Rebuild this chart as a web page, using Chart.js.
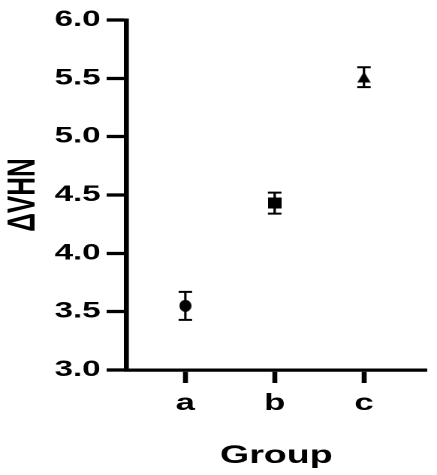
<!DOCTYPE html>
<html>
<head>
<meta charset="utf-8">
<script src="https://cdn.jsdelivr.net/npm/chart.js@4"></script>
<style>
  html, body { margin: 0; padding: 0; background: #fff; overflow: hidden; }
  /* the reference is stretched sideways, so draw narrow and widen */
  #wrap { width: 291px; height: 475px; transform: scaleX(1.5017); transform-origin: 0 0; }
</style>
</head>
<body>
<div id="wrap"><canvas id="chart" width="291" height="475"></canvas></div>
<script>
const groups = ['a', 'b', 'c'];
const means = [3.55, 4.43, 5.51];
const errors = [0.12, 0.09, 0.085];
const markerKinds = ['circle', 'rect', 'triangle'];

const FONT = 'Liberation Sans, Arial, sans-serif';

// marker images pre-squeezed so they look right after the stretch
function makeMarker(kind, w, h) {
  const k = 4;
  const cv = document.createElement('canvas');
  cv.width = w * k; cv.height = h * k;
  const g = cv.getContext('2d');
  g.fillStyle = '#000';
  g.beginPath();
  if (kind === 'circle') {
    g.ellipse(cv.width / 2, cv.height / 2, cv.width / 2, cv.height / 2, 0, 0, Math.PI * 2);
  } else if (kind === 'rect') {
    g.rect(0, 0, cv.width, cv.height);
  } else {
    g.moveTo(cv.width / 2, 0);
    g.lineTo(cv.width, cv.height);
    g.lineTo(0, cv.height);
    g.closePath();
  }
  g.fill();
  const img = new Image(w, h);
  img.src = cv.toDataURL();
  return img;
}

const sizes = { circle: [8, 12], rect: [9, 11], triangle: [9, 11] };
const markers = markerKinds.map(k => makeMarker(k, sizes[k][0], sizes[k][1]));

const errorBars = {
  id: 'errorBars',
  beforeDatasetsDraw(chart) {
    const { ctx, scales: { x, y } } = chart;
    ctx.save();
    ctx.strokeStyle = '#000';
    means.forEach((m, i) => {
      const px = x.getPixelForValue(i);
      const top = y.getPixelForValue(m + errors[i]);
      const bot = y.getPixelForValue(m - errors[i]);
      ctx.lineWidth = 1.6;
      ctx.beginPath();
      ctx.moveTo(px, top);
      ctx.lineTo(px, bot);
      ctx.stroke();
      ctx.lineWidth = 2;
      ctx.beginPath();
      ctx.moveTo(px - 4.5, top); ctx.lineTo(px + 4.5, top);
      ctx.moveTo(px - 4.5, bot); ctx.lineTo(px + 4.5, bot);
      ctx.stroke();
    });
    ctx.restore();
  }
};

Promise.all(markers.map(m => m.decode().catch(() => {}))).then(() => {
  const ctx = document.getElementById('chart').getContext('2d');
  new Chart(ctx, {
    type: 'scatter',
    data: {
      datasets: [{
        data: groups.map((g, i) => ({ x: i, y: means[i] })),
        pointStyle: markers,
        pointRadius: 6,
        pointHoverRadius: 6,
        backgroundColor: '#000',
        borderColor: '#000'
      }]
    },
    options: {
      responsive: false,
      devicePixelRatio: 2,
      animation: false,
      layout: { padding: { top: 20, right: 4.3, left: 0, bottom: 0 } },
      plugins: { legend: { display: false }, tooltip: { enabled: false } },
      scales: {
        x: {
          type: 'linear',
          min: -0.663,
          max: 2.70,
          afterBuildTicks: s => { s.ticks = groups.map((g, i) => ({ value: i })); },
          afterFit: s => { s.height = 105; },
          grid: { drawOnChartArea: false, tickLength: 13, tickWidth: 3.3, tickColor: '#000' },
          border: { color: '#000', width: 3.3 },
          ticks: {
            color: '#000', padding: 7,
            font: { family: FONT, size: 23, weight: 'bold' },
            callback: v => groups[v]
          },
          title: {
            display: true, text: 'Group', color: '#000',
            font: { family: FONT, size: 25, weight: 'bold' },
            padding: { top: 0, bottom: 4 }
          }
        },
        y: {
          min: 3,
          max: 6,
          afterFit: s => { s.width = 84; },
          grid: { drawOnChartArea: false, tickLength: 13, tickWidth: 3.3, tickColor: '#000' },
          border: { color: '#000', width: 3.3 },
          ticks: {
            stepSize: 0.5, color: '#000', padding: 4,
            font: { family: FONT, size: 22, weight: 'bold' },
            callback: v => v.toFixed(1)
          },
          title: {
            display: true, text: 'ΔVHN', color: '#000',
            font: { family: FONT, size: 26, weight: 'bold' },
            padding: { top: 0, bottom: 0 }
          }
        }
      }
    },
    plugins: [errorBars]
  });
});
</script>
</body>
</html>
